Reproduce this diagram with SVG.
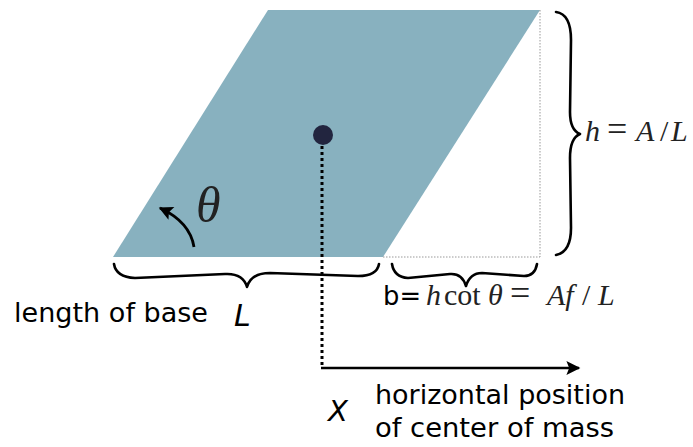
<svg xmlns="http://www.w3.org/2000/svg" width="693" height="447" viewBox="0 0 693 447">
<defs>
<style>
.brace{fill:none;stroke:#000;stroke-width:2.6;stroke-linecap:round;stroke-linejoin:round}
.sans{font-family:"DejaVu Sans","Liberation Sans",sans-serif;fill:#000}
.math{font-family:"Liberation Serif","DejaVu Serif",serif;fill:#222}
.mi{font-style:italic}
.eq{font-size:36px}
.guide{stroke:#999;stroke-width:1;stroke-dasharray:1.5 1.5;fill:none}
</style>
<marker id="ah2" viewBox="0 0 10 10" refX="9" refY="5" markerWidth="20" markerHeight="14" orient="auto" markerUnits="userSpaceOnUse">
<path d="M0,0 L10,5 L0,10 L2,5 Z" fill="#000"/>
</marker>
<marker id="ah3" viewBox="0 0 10 10" refX="9" refY="5" markerWidth="16" markerHeight="14" orient="auto" markerUnits="userSpaceOnUse">
<path d="M0,0 L10,5 L0,10 L2,5 Z" fill="#000"/>
</marker>
</defs>
<rect width="693" height="447" fill="#fff"/>
<g id="parallelogram">
<polygon points="268,10 540,10 383,257 113,257" fill="#88b1bf"/>
</g>
<g id="guides">
<line class="guide" x1="540" y1="10" x2="540" y2="257"/>
<line class="guide" x1="383" y1="257" x2="540" y2="257"/>
</g>
<g id="connectors">
<line x1="322" y1="140" x2="322" y2="367" stroke="#000" stroke-width="3" stroke-dasharray="3 3"/>
<line x1="321" y1="368" x2="579" y2="368" stroke="#000" stroke-width="2.5" marker-end="url(#ah2)"/>
<path d="M194,247 Q190,222 160,208" fill="none" stroke="#000" stroke-width="2.8" marker-end="url(#ah3)"/>
</g>
<g id="com">
<circle cx="323" cy="135" r="10" fill="#22253f"/>
</g>
<g id="braces">
<path class="brace" d="M114,264 Q116,277 135,278 L225,274 Q243,273 247,287 Q251,273 270,273 L358,276 Q377,276 379,264"/>
<path class="brace" d="M392,264 Q394,277 408,278 L450,274 Q462,273 466,286 Q470,273 482,273 L524,276 Q535,276 537,264"/>
<path class="brace" d="M556,12 Q571,14 571,40 L570,112 Q570,130 580,134 Q570,138 570,158 L571,228 Q571,252 556,255"/>
</g>
<g id="labels">
<text class="math mi" x="196" y="222" font-size="50">θ</text>
<text class="math" y="141" font-size="30"><tspan class="mi" x="585">h</tspan><tspan class="eq" x="607">=</tspan><tspan class="mi" x="636">A</tspan><tspan x="660">/</tspan><tspan class="mi" x="671">L</tspan></text>
<text class="sans" x="14" y="322" font-size="26" textLength="194" lengthAdjust="spacingAndGlyphs">length of base</text>
<text class="sans" x="234" y="326" font-size="30" font-style="italic">L</text>
<text class="sans" x="383" y="305" font-size="27" textLength="38" lengthAdjust="spacingAndGlyphs">b=</text>
<text class="math" y="305" font-size="30"><tspan class="mi" x="426">h</tspan><tspan x="444">cot</tspan><tspan class="mi" x="488">θ</tspan><tspan class="eq" x="510">=</tspan><tspan class="mi" x="547">Af</tspan><tspan x="582">/</tspan><tspan class="mi" x="598">L</tspan></text>
<text class="sans" x="328" y="421" font-size="29" font-style="italic">X</text>
<text class="sans" x="375" y="404" font-size="26" textLength="250" lengthAdjust="spacingAndGlyphs">horizontal position</text>
<text class="sans" x="375" y="437" font-size="26" textLength="239" lengthAdjust="spacingAndGlyphs">of center of mass</text>
</g>
</svg>
